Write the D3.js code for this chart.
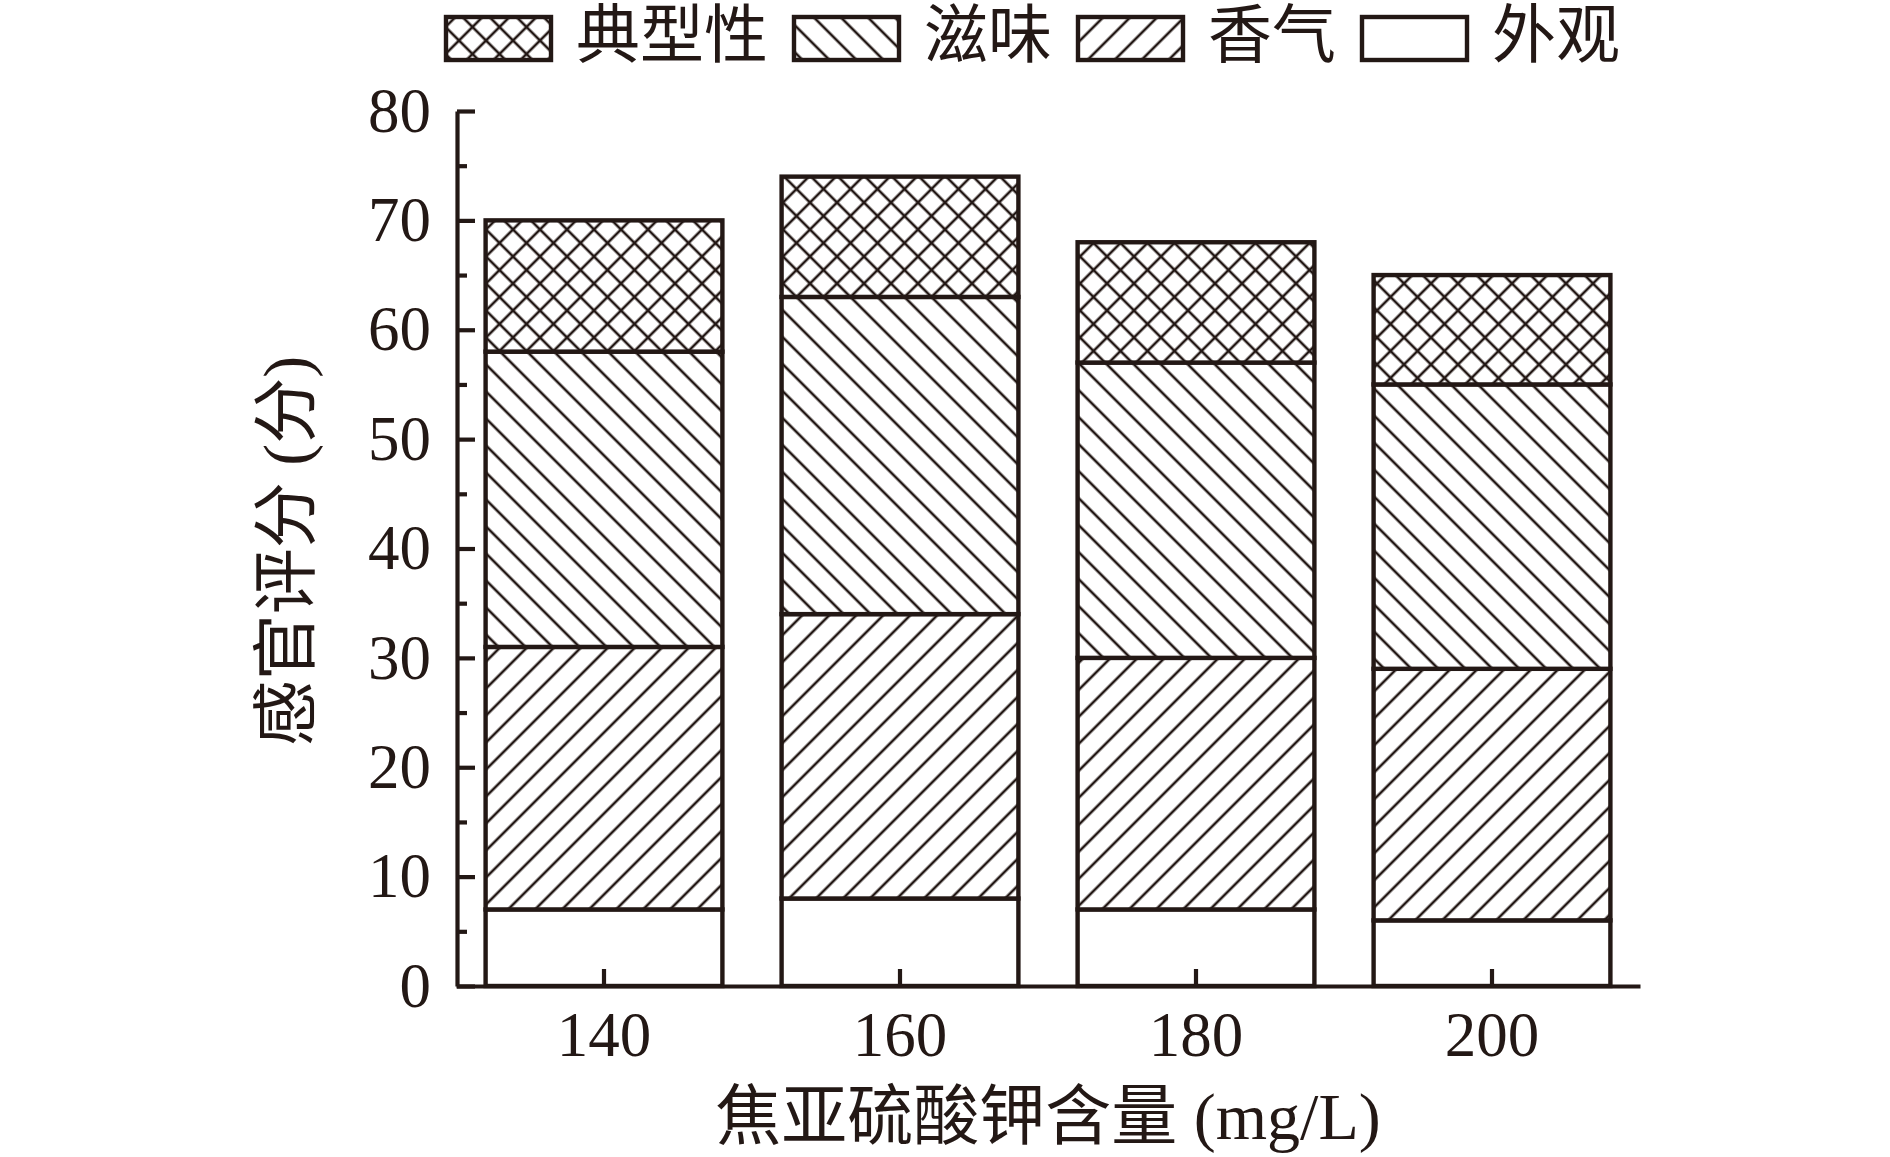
<!DOCTYPE html>
<html><head><meta charset="utf-8">
<script src="https://cdn.jsdelivr.net/npm/d3@7"></script>
<style>
html,body{margin:0;padding:0;background:#fff;}
svg{display:block;}
</style></head>
<body>
<svg id="chart" width="1890" height="1157"></svg>
<script>
// ---- data ----
const categories = ["140", "160", "180", "200"];
const seriesNames = ["外观", "香气", "滋味", "典型性"];
const appearance = [7, 8, 7, 6];
const aroma = [24, 26, 23, 23];
const taste = [27, 29, 27, 26];
const typicality = [12, 11, 11, 10];
const yTicks = [0, 10, 20, 30, 40, 50, 60, 70, 80];
const yMinorTicks = [5, 15, 25, 35, 45, 55, 65, 75];
const legendOrder = ["典型性", "滋味", "香气", "外观"];
const xTitle = "焦亚硫酸钾含量 (mg/L)";
const yTitle = "感官评分 (分)";

const ink = "#231815";
const svg = d3.select("#chart");

const table = categories.map((c, i) => ({
  cat: c, "外观": appearance[i], "香气": aroma[i], "滋味": taste[i], "典型性": typicality[i]
}));

// ---- patterns ----
const defs = svg.append("defs");
const sp = 27 / Math.SQRT2;
function hatch(id, angle, cross) {
  const p = defs.append("pattern").attr("id", id)
    .attr("patternUnits", "userSpaceOnUse")
    .attr("width", sp).attr("height", sp)
    .attr("patternTransform", `rotate(${angle})`);
  p.append("rect").attr("width", sp).attr("height", sp).attr("fill", "#fff");
  p.append("line").attr("x1", sp / 2).attr("x2", sp / 2).attr("y1", -1).attr("y2", sp + 1)
    .attr("stroke", ink).attr("stroke-width", 2.6);
  if (cross) p.append("line").attr("y1", sp / 2).attr("y2", sp / 2).attr("x1", -1).attr("x2", sp + 1)
    .attr("stroke", ink).attr("stroke-width", 2.6);
}
hatch("p-aroma", 45, false);
hatch("p-taste", -45, false);
hatch("p-typ", 45, true);
const fills = { "外观": "#fff", "香气": "url(#p-aroma)", "滋味": "url(#p-taste)", "典型性": "url(#p-typ)" };

// ---- scales ----
const x = d3.scaleBand().domain(categories).range([456, 1640]).paddingInner(0.2).paddingOuter(0.1);
const y = d3.scaleLinear().domain([0, 80]).range([986, 111]);

// ---- bars ----
const stacked = d3.stack().keys(seriesNames)(table);
const gBars = svg.append("g");
stacked.forEach(s => {
  gBars.selectAll(null).data(s).enter().append("rect")
    .attr("x", d => x(d.data.cat))
    .attr("width", x.bandwidth())
    .attr("y", d => y(d[1]))
    .attr("height", d => y(d[0]) - y(d[1]))
    .attr("fill", fills[s.key])
    .attr("stroke", ink).attr("stroke-width", 4.4);
});

// ---- axes ----
svg.append("g").attr("transform", "translate(457,0)")
  .call(d3.axisLeft(y).tickValues(yTicks).tickSizeInner(-18).tickSizeOuter(0).tickPadding(26));
svg.append("g").attr("transform", "translate(457,0)")
  .call(d3.axisLeft(y).tickValues(yMinorTicks).tickSizeInner(-10).tickSizeOuter(0).tickFormat(""))
  .call(g => g.select(".domain").remove());
svg.append("g").attr("transform", "translate(0,986)")
  .call(d3.axisBottom(x).tickSizeInner(-17).tickSizeOuter(0).tickPadding(25));

svg.selectAll(".domain, .tick line").attr("stroke", ink).attr("stroke-width", 4.2);
svg.selectAll(".tick text").attr("fill", ink)
  .style("font-family", "'Liberation Serif', 'Times New Roman', serif").style("font-size", "63px");

// ---- axis titles ----
const titleFont = "'Liberation Serif', 'Noto Sans CJK SC', serif";
svg.append("text").attr("x", 1048).attr("y", 1139).attr("text-anchor", "middle")
  .attr("fill", ink).style("font-family", titleFont).style("font-size", "66px").text(xTitle);
svg.append("text").attr("transform", "translate(309,551) rotate(-90)").attr("text-anchor", "middle")
  .attr("fill", ink).style("font-family", titleFont).style("font-size", "66px").text(yTitle);

// ---- legend ----
const gLeg = svg.append("g");
let lx = 446;
legendOrder.forEach(name => {
  gLeg.append("rect").attr("x", lx).attr("y", 17).attr("width", 105).attr("height", 43)
    .attr("fill", fills[name]).attr("stroke", ink).attr("stroke-width", 4.4);
  const t = gLeg.append("text").attr("x", lx + 130).attr("y", 57).attr("fill", ink)
    .style("font-family", titleFont).style("font-size", "64px").text(name);
  lx = lx + 130 + t.node().getComputedTextLength() + 26;
});
</script>
</body></html>
